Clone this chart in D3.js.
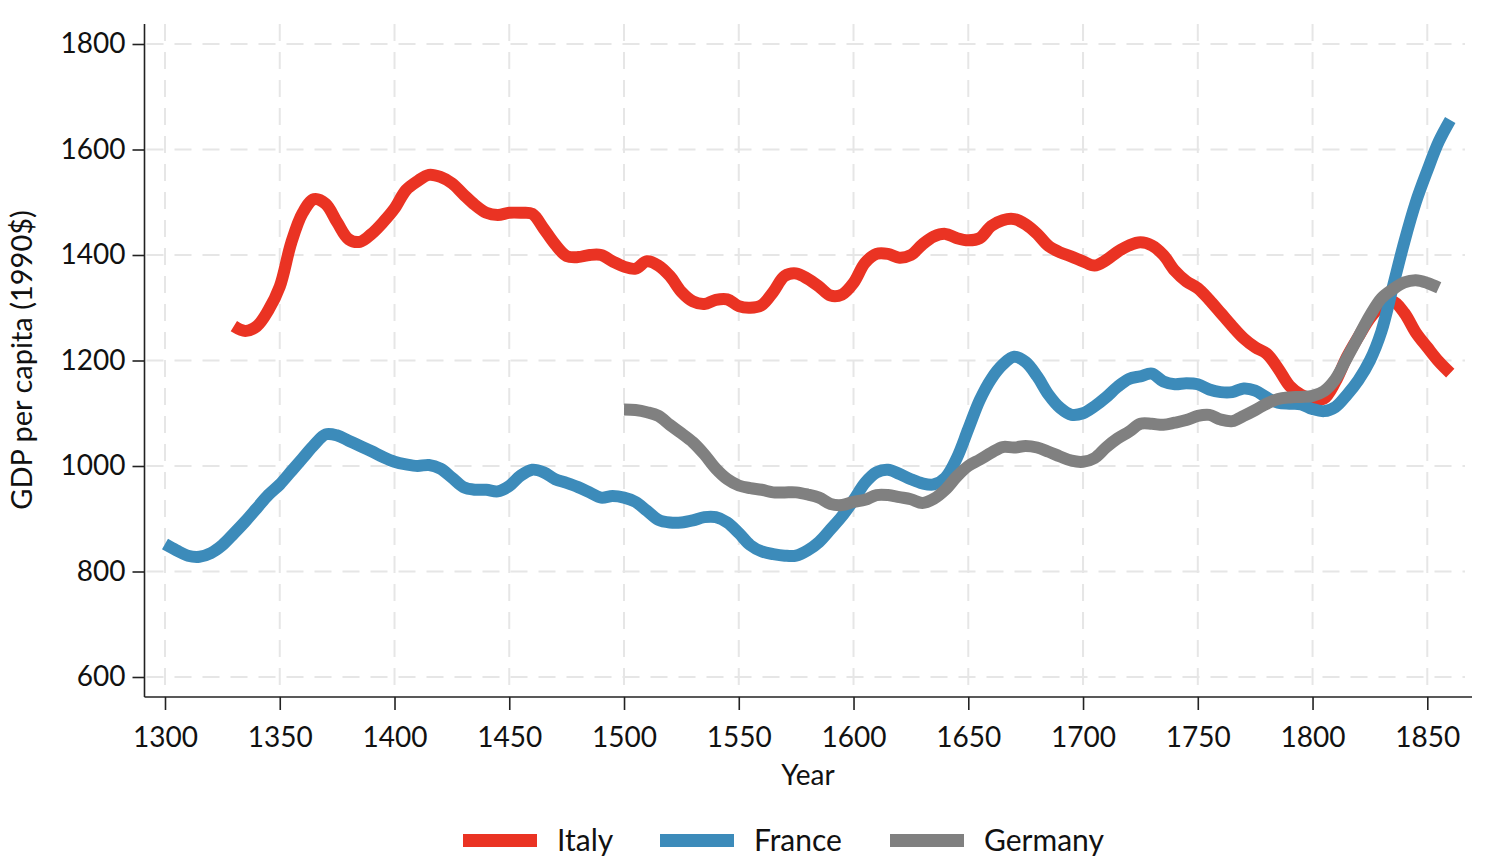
<!DOCTYPE html>
<html>
<head>
<meta charset="utf-8">
<script src="https://cdn.jsdelivr.net/npm/d3@7"></script>
<style>
  html, body { margin: 0; padding: 0; background: #fff; }
  svg { display: block; font-family: Lato, "Open Sans", sans-serif; }
</style>
</head>
<body>
<svg id="chart" width="1492" height="866"></svg>
<script>
// ---- data ----
const italyYears = d3.range(1330, 1861, 5);
const italyValues = [1265,1256,1265,1295,1340,1423,1480,1506,1497,1462,1430,1425,1440,1462,1488,1523,1540,1552,1548,1536,
  1515,1495,1480,1476,1480,1480,1478,1450,1420,1398,1396,1400,1400,1388,1378,1374,1388,1380,1360,1330,
  1312,1307,1315,1316,1303,1300,1305,1330,1360,1365,1355,1340,1323,1325,1347,1385,1402,1402,1395,1400,
  1420,1435,1440,1432,1428,1432,1455,1466,1468,1458,1440,1417,1405,1397,1388,1380,1390,1406,1418,1424,
  1418,1400,1370,1350,1337,1315,1290,1265,1242,1225,1213,1185,1152,1135,1127,1128,1160,1207,1245,1280,
  1303,1312,1290,1253,1225,1198,1176];
const franceYears = d3.range(1300, 1861, 5);
const franceValues = [852,840,830,828,835,850,872,895,920,945,965,990,1015,1040,1060,1058,1048,1038,1028,1017,
  1008,1003,1000,1002,995,978,960,955,955,952,962,982,993,988,975,968,960,950,940,943,
  940,932,915,898,893,893,897,903,903,893,873,850,838,833,830,830,840,856,880,905,
  935,968,988,993,985,975,967,965,978,1015,1070,1125,1165,1192,1207,1197,1170,1135,1110,1097,
  1100,1113,1130,1150,1165,1170,1175,1160,1155,1157,1155,1145,1140,1140,1147,1143,1130,1120,1118,1117,
  1108,1104,1112,1135,1163,1200,1255,1340,1425,1500,1560,1615,1656];
const germanyYears = d3.range(1500, 1856, 5);
const germanyValues = [1107,1106,1102,1095,1078,1062,1045,1022,995,975,963,958,955,950,950,950,946,940,928,926,
  932,936,945,945,941,937,930,938,955,980,1000,1012,1025,1036,1035,1038,1035,1027,1018,1010,
  1008,1015,1035,1052,1065,1080,1080,1078,1082,1087,1095,1097,1088,1085,1095,1106,1118,1127,1130,1131,
  1133,1142,1165,1205,1245,1285,1318,1335,1348,1352,1347,1338];

const seriesNames = ["Italy", "France", "Germany"];
const seriesColors = ["#EA3323", "#3C8BBA", "#808080"];
const xTicks = [1300,1350,1400,1450,1500,1550,1600,1650,1700,1750,1800,1850];
const yTicks = [600,800,1000,1200,1400,1600,1800];

const series = [
  { name: seriesNames[0], color: seriesColors[0], pts: italyYears.map((y,i)=>[y, italyValues[i]]) },
  { name: seriesNames[1], color: seriesColors[1], pts: franceYears.map((y,i)=>[y, franceValues[i]]) },
  { name: seriesNames[2], color: seriesColors[2], pts: germanyYears.map((y,i)=>[y, germanyValues[i]]) }
];

// ---- layout ----
const svg = d3.select("#chart");
const x = d3.scaleLinear().domain([1300, 1850]).range([165, 1427.3]);
const y = d3.scaleLinear().domain([600, 1800]).range([677, 44]);
const axisX = 144.5, axisY = 697, plotTop = 24, plotRight = 1472, gridRight = 1465;

// grid
const grid = svg.append("g").attr("stroke", "#e6e6e6").attr("stroke-width", 2).attr("stroke-dasharray", "17,11");
grid.selectAll("line.h").data(yTicks).join("line").attr("class","h")
  .attr("x1", axisX + 2).attr("x2", gridRight).attr("y1", d=>y(d)).attr("y2", d=>y(d));
grid.selectAll("line.v").data(xTicks).join("line").attr("class","v")
  .attr("x1", d=>x(d)).attr("x2", d=>x(d)).attr("y1", plotTop).attr("y2", axisY);

// lines
const line = d3.line().x(d=>x(d[0])).y(d=>y(d[1])).curve(d3.curveCatmullRom.alpha(0.5));
svg.append("g").selectAll("path").data(series).join("path")
  .attr("d", d=>line(d.pts)).attr("fill","none").attr("stroke", d=>d.color)
  .attr("stroke-width", 12).attr("stroke-linejoin","round").attr("stroke-linecap","butt");

// axes
const yAxis = d3.axisLeft(y).tickValues(yTicks).tickSize(12).tickPadding(7).tickFormat(d3.format("d"));
const gy = svg.append("g").attr("transform", `translate(${axisX},0)`).call(yAxis);
gy.select(".domain").remove();
svg.append("line").attr("x1", axisX).attr("x2", axisX).attr("y1", plotTop).attr("y2", axisY)
  .attr("stroke", "#222").attr("stroke-width", 1.6);

const xAxis = d3.axisBottom(x).tickValues(xTicks).tickSize(13).tickPadding(17).tickFormat(d3.format("d"));
const gx = svg.append("g").attr("transform", `translate(0,${axisY})`).call(xAxis);
gx.select(".domain").remove();
svg.append("line").attr("x1", axisX).attr("x2", plotRight).attr("y1", axisY).attr("y2", axisY)
  .attr("stroke", "#222").attr("stroke-width", 1.6);

svg.selectAll(".tick line").attr("stroke", "#222").attr("stroke-width", 1.6);
svg.selectAll(".tick text").attr("font-size", 28).attr("fill", "#111").attr("font-family", "Lato, sans-serif");

// axis titles
svg.append("text").attr("x", 808).attr("y", 785).attr("text-anchor","middle")
  .attr("font-size", 28).attr("fill","#111").text("Year");
svg.append("text").attr("transform", "translate(32,360) rotate(-90)").attr("text-anchor","middle")
  .attr("font-size", 29).attr("fill","#111").text("GDP per capita (1990$)");

// legend
const legendX = [463, 660, 890];
const lg = svg.append("g");
series.forEach((s, i) => {
  lg.append("rect").attr("x", legendX[i]).attr("y", 834).attr("width", 74).attr("height", 13).attr("fill", s.color);
  lg.append("text").attr("x", legendX[i] + 94).attr("y", 851).attr("font-size", 30).attr("fill","#111").text(s.name);
});
</script>
</body>
</html>
